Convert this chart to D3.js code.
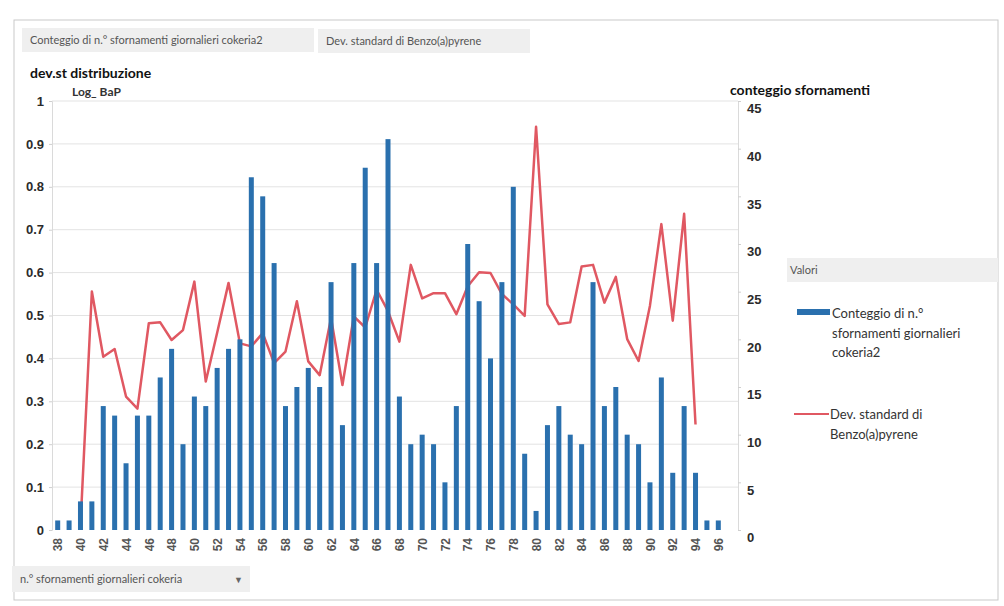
<!DOCTYPE html>
<html>
<head>
<meta charset="utf-8">
<script src="https://cdn.jsdelivr.net/npm/d3@7"></script>
<style>
  body { margin: 0; background: #fff; }
  svg { font-family: Lato, "Liberation Sans", sans-serif; }
</style>
</head>
<body>
<svg width="1004" height="606"></svg>
<script>
// n.° sfornamenti giornalieri cokeria (categorie)
var categories = [38, 39, 40, 41, 42, 43, 44, 45, 46, 47, 48, 49, 50, 51, 52, 53, 54, 55, 56, 57,
  58, 59, 60, 61, 62, 63, 64, 65, 66, 67, 68, 69, 70, 71, 72, 73, 74, 75, 76, 77,
  78, 79, 80, 81, 82, 83, 84, 85, 86, 87, 88, 89, 90, 91, 92, 93, 94, 95, 96];

// Conteggio di n.° sfornamenti giornalieri cokeria2 (asse destro)
var counts = [1, 1, 3, 3, 13, 12, 7, 12, 12, 16, 19, 9, 14, 13, 17, 19, 20, 37, 35, 28,
  13, 15, 17, 15, 26, 11, 28, 38, 28, 41, 14, 9, 10, 9, 5, 13, 30, 24, 18, 26,
  36, 8, 2, 11, 13, 10, 9, 26, 13, 15, 10, 9, 5, 16, 6, 13, 6, 1, 1];

// Dev. standard di Benzo(a)pyrene (asse sinistro), null = nessun valore
var devst = [null, null, 0.01, 0.556, 0.404, 0.422, 0.311, 0.283, 0.482, 0.484, 0.443, 0.466, 0.579, 0.346, 0.46, 0.576, 0.435, 0.428, 0.459, 0.389,
  0.416, 0.533, 0.393, 0.361, 0.494, 0.338, 0.498, 0.472, 0.56, 0.51, 0.439, 0.618, 0.54, 0.552, 0.552, 0.503, 0.568, 0.601, 0.599, 0.55,
  0.526, 0.499, 0.94, 0.526, 0.48, 0.484, 0.614, 0.618, 0.53, 0.59, 0.445, 0.394, 0.523, 0.713, 0.488, 0.737, 0.246, null, null];

var leftTicks = [0, 0.1, 0.2, 0.3, 0.4, 0.5, 0.6, 0.7, 0.8, 0.9, 1];
var rightTicks = [0, 5, 10, 15, 20, 25, 30, 35, 40, 45];
var xTickLabels = [38, 40, 42, 44, 46, 48, 50, 52, 54, 56, 58, 60, 62, 64, 66, 68, 70, 72, 74, 76,
  78, 80, 82, 84, 86, 88, 90, 92, 94, 96];

var barColor = "#2a70ae";
var lineColor = "#e05862";

var svg = d3.select("svg");

var plot = {left: 52, right: 738, top: 101, bottom: 530};

// frame of the chart area
svg.append("rect")
  .attr("x", 14).attr("y", 20)
  .attr("width", 984).attr("height", 580)
  .attr("fill", "none")
  .attr("stroke", "#c9c9c9");

var x = d3.scalePoint()
  .domain(categories)
  .range([plot.left, 724])
  .padding(0.5);

var yL = d3.scaleLinear().domain([0, 1]).range([plot.bottom, plot.top]);
var yR = d3.scaleLinear().domain([0, 45]).range([plot.bottom, plot.top]);

// gridlines
svg.append("g")
  .selectAll("line")
  .data(leftTicks.slice(1))
  .enter()
  .append("line")
  .attr("x1", plot.left)
  .attr("x2", plot.right)
  .attr("y1", function(d){return yL(d)})
  .attr("y2", function(d){return yL(d)})
  .attr("stroke", "#e3e3e3")
  .attr("stroke-width", 1);

// left axis
var leftAxis = svg.append("g")
  .attr("transform", "translate(" + plot.left + ",0)")
  .call(d3.axisLeft(yL).tickValues(leftTicks).tickSize(3).tickFormat(d3.format("")));
leftAxis.select(".domain").attr("stroke", "#dadada");
leftAxis.selectAll(".tick line").attr("stroke", "#cfcfcf");
leftAxis.selectAll("text")
  .attr("x", -8)
  .attr("fill", "#2b2b2b")
  .style("font-size", "13px")
  .style("font-weight", "bold");

// right axis
var rightAxis = svg.append("g")
  .attr("transform", "translate(" + plot.right + ",0)")
  .call(d3.axisRight(yR).tickValues(rightTicks).tickSize(3));
rightAxis.select(".domain").attr("stroke", "#dadada");
rightAxis.selectAll(".tick line").attr("stroke", "#cfcfcf");
rightAxis.selectAll("text")
  .attr("x", 9)
  .attr("dy", "0.9em")
  .attr("fill", "#2b2b2b")
  .style("font-size", "13px")
  .style("font-weight", "bold");

// x axis
var xAxis = svg.append("g")
  .attr("transform", "translate(0," + plot.bottom + ")")
  .call(d3.axisBottom(x).tickValues(xTickLabels).tickSize(0));
xAxis.select(".domain").remove();
xAxis.selectAll("text")
  .attr("transform", "rotate(-90)")
  .attr("x", -8)
  .attr("y", 0)
  .attr("dy", "0.35em")
  .style("text-anchor", "end")
  .attr("fill", "#555")
  .style("font-size", "12px")
  .style("font-weight", "bold");

// line: dev. standard (primary axis)
var line = d3.line()
  .defined(function(d){return d.v !== null})
  .x(function(d){return x(d.c)})
  .y(function(d){return yL(d.v)});

var lineData = categories.map(function(c, i){return {c: c, v: devst[i]}});

svg.append("path")
  .datum(lineData)
  .attr("d", line)
  .attr("fill", "none")
  .attr("stroke", lineColor)
  .attr("stroke-width", 2.5)
  .attr("stroke-linejoin", "round");

// bars: conteggio (secondary axis)
var barData = categories.map(function(c, i){return {c: c, v: counts[i]}});
var barW = 5;
svg.append("g")
  .selectAll("rect")
  .data(barData)
  .enter()
  .append("rect")
  .attr("x", function(d){return x(d.c) - barW / 2})
  .attr("y", function(d){return yR(d.v)})
  .attr("width", barW)
  .attr("height", function(d){return yR(0) - yR(d.v)})
  .attr("fill", barColor);

// axis titles
svg.append("text")
  .attr("x", 30).attr("y", 78)
  .style("font-size", "14px").style("font-weight", "bold")
  .attr("fill", "#111")
  .text("dev.st distribuzione");
svg.append("text")
  .attr("x", 72).attr("y", 96)
  .style("font-size", "12px").style("font-weight", "bold")
  .attr("fill", "#333")
  .text("Log_ BaP");
svg.append("text")
  .attr("x", 730).attr("y", 95)
  .style("font-size", "14px").style("font-weight", "bold")
  .attr("fill", "#111")
  .text("conteggio sfornamenti");

// pivot field buttons
function fieldButton(x0, y0, w, h, label, arrow) {
  svg.append("rect")
    .attr("x", x0).attr("y", y0)
    .attr("width", w).attr("height", h)
    .attr("fill", "#efefef");
  svg.append("text")
    .attr("x", x0 + 8).attr("y", y0 + h / 2 + 4)
    .style("font-size", "11px")
    .attr("fill", "#555")
    .text(label);
  if (arrow) {
    svg.append("text")
      .attr("x", x0 + w - 16).attr("y", y0 + h / 2 + 4)
      .style("font-size", "9px")
      .attr("fill", "#666")
      .text("▼");
  }
}
fieldButton(22, 28, 292, 24, "Conteggio di n.° sfornamenti giornalieri cokeria2", false);
fieldButton(318, 29, 212, 24, "Dev. standard di Benzo(a)pyrene", false);
fieldButton(12, 566, 238, 26, "n.° sfornamenti giornalieri cokeria", true);

// legend
svg.append("rect")
  .attr("x", 787).attr("y", 258)
  .attr("width", 211).attr("height", 24)
  .attr("fill", "#efefef");
svg.append("text")
  .attr("x", 790).attr("y", 274)
  .style("font-size", "11px")
  .attr("fill", "#555")
  .text("Valori");

svg.append("rect")
  .attr("x", 797).attr("y", 309)
  .attr("width", 33).attr("height", 6)
  .attr("fill", barColor);
var legendText1 = ["Conteggio di n.°", "sfornamenti giornalieri", "cokeria2"];
svg.append("g")
  .selectAll("text")
  .data(legendText1)
  .enter()
  .append("text")
  .attr("x", 832)
  .attr("y", function(d, i){return 318 + i * 19.5})
  .style("font-size", "13px")
  .attr("fill", "#333")
  .text(function(d){return d});

svg.append("line")
  .attr("x1", 794).attr("x2", 829)
  .attr("y1", 414).attr("y2", 414)
  .attr("stroke", lineColor)
  .attr("stroke-width", 2);
var legendText2 = ["Dev. standard di", "Benzo(a)pyrene"];
svg.append("g")
  .selectAll("text")
  .data(legendText2)
  .enter()
  .append("text")
  .attr("x", 830)
  .attr("y", function(d, i){return 419 + i * 19.5})
  .style("font-size", "13px")
  .attr("fill", "#333")
  .text(function(d){return d});
</script>
</body>
</html>
